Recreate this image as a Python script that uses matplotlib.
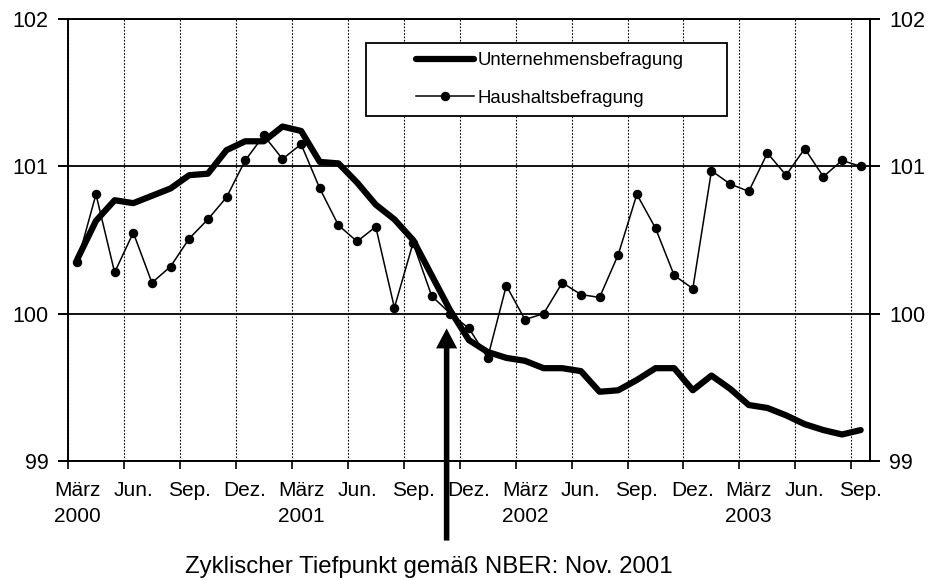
import numpy as np
import matplotlib
matplotlib.use("Agg")
import matplotlib.pyplot as plt
from matplotlib.patches import Rectangle
from matplotlib.lines import Line2D

plt.rcParams["font.family"] = ["Liberation Sans", "DejaVu Sans"]

# monthly values, März 2000 .. Sep. 2003 (43 months)
unternehmen = [100.37, 100.63, 100.77, 100.75, 100.80, 100.85, 100.94, 100.95, 101.11, 101.17,
               101.17, 101.27, 101.24, 101.03, 101.02, 100.89, 100.74, 100.64, 100.50, 100.26,
               100.02, 99.82, 99.74, 99.70, 99.68, 99.63, 99.63, 99.61, 99.47, 99.48,
               99.55, 99.63, 99.63, 99.48, 99.58, 99.49, 99.38, 99.36, 99.31, 99.25,
               99.21, 99.18, 99.21]
haushalt = [100.35, 100.81, 100.28, 100.55, 100.21, 100.32, 100.51, 100.64, 100.79, 101.04,
            101.21, 101.05, 101.15, 100.85, 100.60, 100.49, 100.59, 100.04, 100.48, 100.12,
            100.00, 99.90, 99.70, 100.19, 99.96, 100.00, 100.21, 100.13, 100.11, 100.40,
            100.81, 100.58, 100.26, 100.17, 100.97, 100.88, 100.83, 101.09, 100.94, 101.12,
            100.93, 101.04, 101.00]
tick_labels = ["März\n2000", "Jun.", "Sep.", "Dez.", "März\n2001", "Jun.", "Sep.", "Dez.",
               "März\n2002", "Jun.", "Sep.", "Dez.", "März\n2003", "Jun.", "Sep."]
y_ticks = [99, 100, 101, 102]
trough_pos = 19.8  # NBER trough, Nov. 2001
series_names = ["Unternehmensbefragung", "Haushaltsbefragung"]

x = np.arange(len(unternehmen))

fig = plt.figure(figsize=(9.3, 5.8), dpi=100)
ax = fig.add_axes([68 / 930, 1 - 461 / 580, 802 / 930, 442 / 580])

ax.plot(x, haushalt, color="black", lw=1.1, marker="o", ms=5.8, zorder=3)
ax.plot(x, unternehmen, color="black", lw=4.5, solid_joinstyle="round",
        solid_capstyle="round", zorder=3)

ax.set_xlim(-0.5, len(x) - 0.5)
ax.set_ylim(99, 102)

# x axis: tick marks at category boundaries, labels at category centres
ax.set_xticks(np.arange(-0.5, len(x) - 1, 3))
ax.set_xticklabels([])
ax.set_xticks(np.arange(0, len(x), 3), minor=True)
ax.set_xticklabels(tick_labels, minor=True, fontsize=15, linespacing=1.45)
ax.tick_params(axis="x", which="major", direction="out", length=6, width=1.2)
ax.tick_params(axis="x", which="minor", length=0, pad=14.5)
ax.xaxis.grid(True, which="major", color="black", lw=0.8, ls=(0, (1.5, 1.5)))

ax.set_yticks(y_ticks)
ax.set_yticklabels([str(v) for v in y_ticks], fontsize=15.5)
ax.tick_params(axis="y", direction="out", length=7, width=1.4, pad=7,
               left=True, right=True, labelleft=True, labelright=True)
ax.yaxis.grid(True, color="black", lw=1.3, ls="-")
ax.set_axisbelow(True)
for sp in ax.spines.values():
    sp.set_linewidth(1.4)

# legend box
ax.add_patch(Rectangle((298 / 802, 345 / 442), 361 / 802, 73 / 442, transform=ax.transAxes,
                       facecolor="white", edgecolor="black", lw=1.3, zorder=4))
handles = [Line2D([], [], color="black", lw=4.5, solid_capstyle="round"),
           Line2D([], [], color="black", lw=1.1, marker="o", ms=5.8)]
ax.legend(handles, series_names, loc="upper left", bbox_to_anchor=(348 / 802, 409 / 442),
          frameon=False, fontsize=13.4, borderpad=0, borderaxespad=0, handlelength=3.1,
          handletextpad=0.2, labelspacing=1.1).set_zorder(5)

# NBER trough arrow
ax.annotate("", xy=(trough_pos, 99.9), xytext=(trough_pos, 98.46),
            arrowprops=dict(arrowstyle="simple,head_length=0.72,head_width=0.76,tail_width=0.2",
                            fc="black", ec="none", mutation_scale=20, shrinkA=0, shrinkB=0),
            annotation_clip=False, zorder=6)
fig.text(428.8 / 930, 1 - 573 / 580, "Zyklischer Tiefpunkt gemäß NBER: Nov. 2001",
         ha="center", va="baseline", fontsize=17.3)

fig.savefig("out.png", dpi=100)
